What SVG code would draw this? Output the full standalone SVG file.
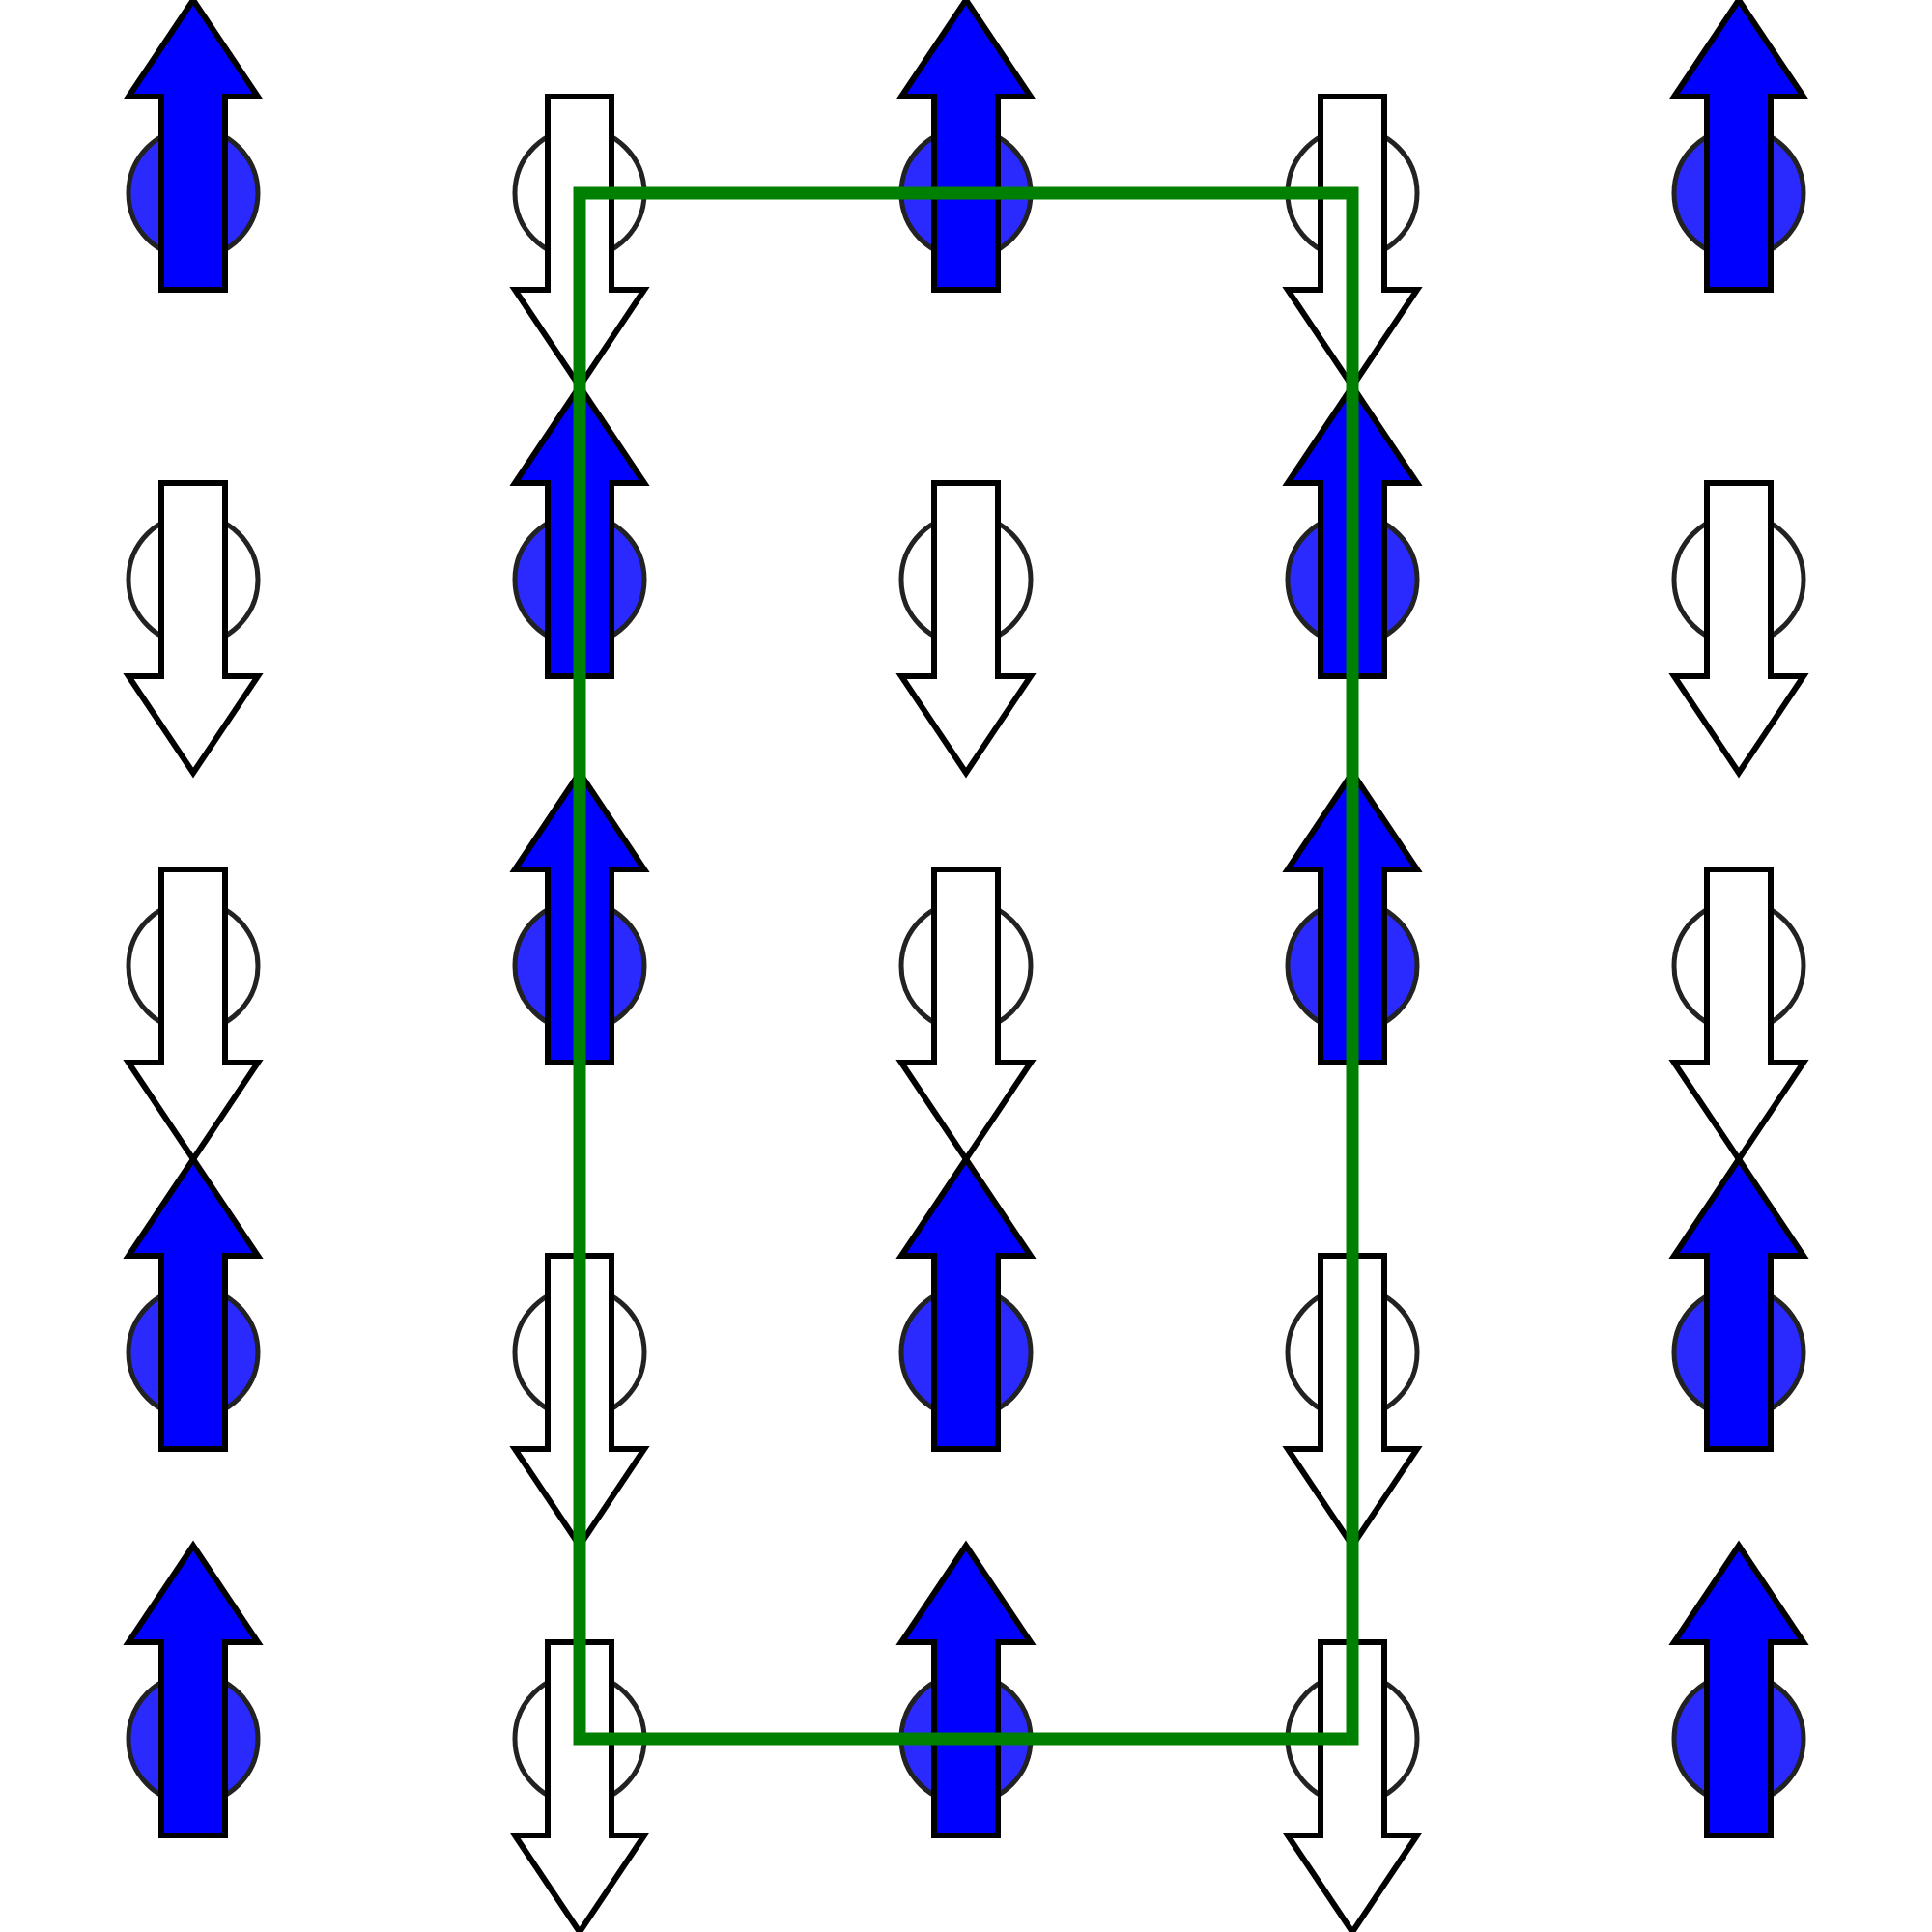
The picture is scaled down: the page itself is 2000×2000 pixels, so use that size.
<svg xmlns="http://www.w3.org/2000/svg" xmlns:xlink="http://www.w3.org/1999/xlink" width="2000" height="2000" viewBox="0 0 2000 2000">
<style>
.cu{fill:#2a2aff;stroke:#222;stroke-width:5}
.cd{fill:#fff;stroke:#222;stroke-width:5}
.au{fill:#0000ff;stroke:#000;stroke-width:6}
.ad{fill:#fff;stroke:#000;stroke-width:6}
</style>
<defs>
<g id="up"><circle class="cu" cx="0" cy="0" r="67"/><path class="au" d="M0,-200 L67,-100 L33,-100 L33,100 L-33,100 L-33,-100 L-67,-100 Z"/></g>
<g id="dn"><circle class="cd" cx="0" cy="0" r="67"/><path class="ad" d="M0,200 L67,100 L33,100 L33,-100 L-33,-100 L-33,100 L-67,100 Z"/></g>
</defs>
<rect width="2000" height="2000" fill="#fff"/>
<g id="r0"><use xlink:href="#up" x="200" y="200"/><use xlink:href="#dn" x="600" y="200"/><use xlink:href="#up" x="1000" y="200"/><use xlink:href="#dn" x="1400" y="200"/><use xlink:href="#up" x="1800" y="200"/></g>
<g id="r1"><use xlink:href="#dn" x="200" y="600"/><use xlink:href="#up" x="600" y="600"/><use xlink:href="#dn" x="1000" y="600"/><use xlink:href="#up" x="1400" y="600"/><use xlink:href="#dn" x="1800" y="600"/></g>
<g id="r2"><use xlink:href="#dn" x="200" y="1000"/><use xlink:href="#up" x="600" y="1000"/><use xlink:href="#dn" x="1000" y="1000"/><use xlink:href="#up" x="1400" y="1000"/><use xlink:href="#dn" x="1800" y="1000"/></g>
<g id="r3"><use xlink:href="#up" x="200" y="1400"/><use xlink:href="#dn" x="600" y="1400"/><use xlink:href="#up" x="1000" y="1400"/><use xlink:href="#dn" x="1400" y="1400"/><use xlink:href="#up" x="1800" y="1400"/></g>
<g id="r4"><use xlink:href="#up" x="200" y="1800"/><use xlink:href="#dn" x="600" y="1800"/><use xlink:href="#up" x="1000" y="1800"/><use xlink:href="#dn" x="1400" y="1800"/><use xlink:href="#up" x="1800" y="1800"/></g>
<g id="cell"><rect x="600" y="200" width="800" height="1600" fill="none" stroke="#008000" stroke-width="13"/></g>
</svg>
